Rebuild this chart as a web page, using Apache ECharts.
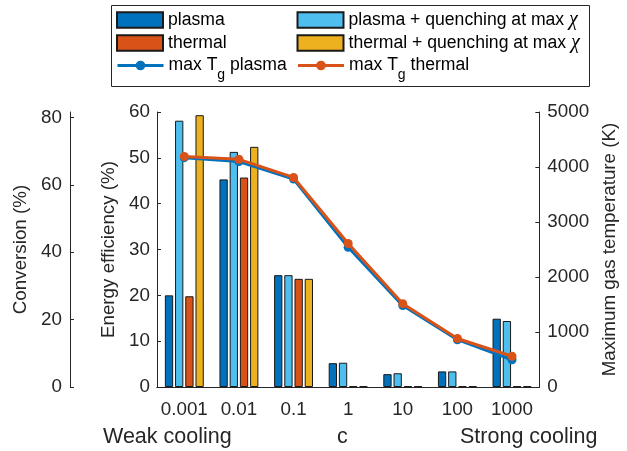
<!DOCTYPE html>
<html>
<head>
<meta charset="utf-8">
<script src="https://cdn.jsdelivr.net/npm/echarts@6/dist/echarts.min.js"></script>
<style>html,body{margin:0;padding:0;background:#fff}#c{width:627px;height:451px}</style>
</head>
<body>
<div id="c"></div>
<script>
var categories = ['0.001', '0.01', '0.1', '1', '10', '100', '1000'];
var plasma = [20.0, 45.3, 24.4, 5.2, 2.8, 3.4, 14.9];
var plasmaQuench = [58.1, 51.3, 24.4, 5.3, 3.0, 3.4, 14.4];
var thermal = [19.8, 45.7, 23.6, 0.15, 0.15, 0.15, 0.15];
var thermalQuench = [59.3, 52.4, 23.6, 0.15, 0.15, 0.15, 0.15];
var tgPlasma = [4170, 4100, 3780, 2540, 1480, 860, 495];
var tgThermal = [4190, 4140, 3810, 2610, 1515, 882, 560];
var effTicks = [0, 10, 20, 30, 40, 50, 60];
var convTicks = [0, 20, 40, 60, 80];
var tempTicks = [0, 1000, 2000, 3000, 4000, 5000];

var FONT = "'Liberation Sans', Arial, Helvetica, sans-serif";
var TXT = '#262626';
var C_PL = '#0072BD', C_PLQ = '#4DBEEE', C_TH = '#D95319', C_THQ = '#EDB120';

var chart = echarts.init(document.getElementById('c'), null, {renderer: 'canvas'});

function legendFmt(n) {
  if (n.indexOf('max Tg') === 0) return 'max T{sub|g}' + n.slice(6);
  if (n.indexOf('χ') >= 0) return n.replace('χ', '{chi|χ}');
  return n;
}
var legendText = {
  fontFamily: FONT, fontSize: 17.6, color: '#000', lineHeight: 20,
  rich: {
    sub: {fontFamily: FONT, fontSize: 14, lineHeight: 14, padding: [13, 0, 0, 0], verticalAlign: 'top', color: '#000'},
    chi: {fontFamily: "'Liberation Serif', 'DejaVu Serif', serif", fontStyle: 'italic', fontSize: 20, lineHeight: 20, color: '#000'}
  }
};
function mkLegend(name, left, top, isLine) {
  var l = {
    data: [name], left: left, top: top, padding: 0, itemWidth: 46, itemHeight: isLine ? 12 : 15.5,
    selectedMode: false, formatter: legendFmt, textStyle: legendText, z: 10
  };
  if (isLine) { l.lineStyle = {width: 3}; } else { l.icon = 'rect'; }
  return l;
}

var axisLineStyle = {lineStyle: {color: TXT, width: 1}};
var labelStyle = {fontFamily: FONT, fontSize: 18.8, color: TXT};
var nameStyle = {fontFamily: FONT, fontSize: 18.8, color: TXT};

var option = {
  animation: false,
  backgroundColor: '#fff',
  graphic: [
    {type: 'rect', shape: {x: 111.5, y: 5.5, width: 478, height: 81}, style: {fill: '#fff', stroke: '#262626', lineWidth: 1}, z: 1},
    {type: 'text', left: 103, top: 426, style: {text: 'Weak cooling', fontFamily: FONT, fontSize: 21.5, fill: TXT}},
    {type: 'text', left: 337, top: 426, style: {text: 'c', fontFamily: FONT, fontSize: 21.5, fill: TXT}},
    {type: 'text', left: 460, top: 426, style: {text: 'Strong cooling', fontFamily: FONT, fontSize: 21.5, fill: TXT}}
  ],
  legend: [
    mkLegend('plasma', 116, 10),
    mkLegend('plasma + quenching at max χ', 296.5, 10),
    mkLegend('thermal', 116, 33),
    mkLegend('thermal + quenching at max χ', 296.5, 33),
    mkLegend('max Tg plasma', 116, 55.5, true),
    mkLegend('max Tg thermal', 296.5, 55.5, true)
  ],
  grid: {left: 157, right: 81, top: 112, bottom: 64, containLabel: false},
  xAxis: [
    {type: 'category', data: categories, position: 'bottom',
     axisLine: axisLineStyle, axisTick: {inside: true, alignWithLabel: true, interval: 0, length: 4, lineStyle: {color: TXT}},
     axisLabel: Object.assign({margin: 13, interval: 0}, labelStyle), splitLine: {show: false}},
    {type: 'category', data: categories, position: 'top',
     axisLine: axisLineStyle, axisTick: {inside: true, alignWithLabel: true, interval: 0, length: 4, lineStyle: {color: TXT}},
     axisLabel: {show: false}, splitLine: {show: false}}
  ],
  yAxis: [
    {type: 'value', position: 'left', min: effTicks[0], max: effTicks[effTicks.length - 1], interval: 10,
     name: 'Energy efficiency (%)', nameLocation: 'middle', nameGap: 36, nameTextStyle: nameStyle,
     axisLine: {show: true, lineStyle: {color: TXT, width: 1}}, axisTick: {show: true, inside: true, length: 4, lineStyle: {color: TXT}},
     axisLabel: Object.assign({margin: 7}, labelStyle), splitLine: {show: false}},
    {type: 'value', position: 'left', offset: 87, min: convTicks[0], max: 81.6, interval: 20,
     name: 'Conversion (%)', nameLocation: 'middle', nameGap: 37.5, nameTextStyle: nameStyle,
     axisLine: {show: true, lineStyle: {color: TXT, width: 1}},
     axisTick: {show: true, inside: true, length: 4, customValues: convTicks, lineStyle: {color: TXT}},
     axisLabel: Object.assign({margin: 8, customValues: convTicks, formatter: function (v) { return convTicks.indexOf(v) >= 0 ? String(v) : ''; }}, labelStyle),
     splitLine: {show: false}},
    {type: 'value', position: 'right', min: tempTicks[0], max: tempTicks[tempTicks.length - 1], interval: 1000,
     name: 'Maximum gas temperature (K)', nameLocation: 'middle', nameGap: 59, nameTextStyle: nameStyle,
     axisLine: {show: true, lineStyle: {color: TXT, width: 1}}, axisTick: {show: true, inside: true, length: 4, lineStyle: {color: TXT}},
     axisLabel: Object.assign({margin: 8, formatter: function (v) { return String(v); }}, labelStyle), splitLine: {show: false}}
  ],
  series: [
    {name: 'plasma', type: 'bar', data: plasma, xAxisIndex: 0, yAxisIndex: 0, barWidth: 8.3, barGap: '23%',
     itemStyle: {color: C_PL, borderColor: '#1a1a1a', borderWidth: 1}},
    {name: 'plasma + quenching at max χ', type: 'bar', data: plasmaQuench, xAxisIndex: 0, yAxisIndex: 0, barWidth: 8.3, barGap: '23%',
     itemStyle: {color: C_PLQ, borderColor: '#1a1a1a', borderWidth: 1}},
    {name: 'thermal', type: 'bar', data: thermal, xAxisIndex: 0, yAxisIndex: 0, barWidth: 8.3, barGap: '23%',
     itemStyle: {color: C_TH, borderColor: '#1a1a1a', borderWidth: 1}},
    {name: 'thermal + quenching at max χ', type: 'bar', data: thermalQuench, xAxisIndex: 0, yAxisIndex: 0, barWidth: 8.3, barGap: '23%',
     itemStyle: {color: C_THQ, borderColor: '#1a1a1a', borderWidth: 1}},
    {name: 'max Tg plasma', type: 'line', data: tgPlasma, xAxisIndex: 0, yAxisIndex: 2, z: 5,
     symbol: 'circle', symbolSize: 9, lineStyle: {color: C_PL, width: 3}, itemStyle: {color: C_PL}},
    {name: 'max Tg thermal', type: 'line', data: tgThermal, xAxisIndex: 0, yAxisIndex: 2, z: 6,
     symbol: 'circle', symbolSize: 9, lineStyle: {color: C_TH, width: 3}, itemStyle: {color: C_TH}}
  ]
};
chart.setOption(option);
</script>
</body>
</html>
